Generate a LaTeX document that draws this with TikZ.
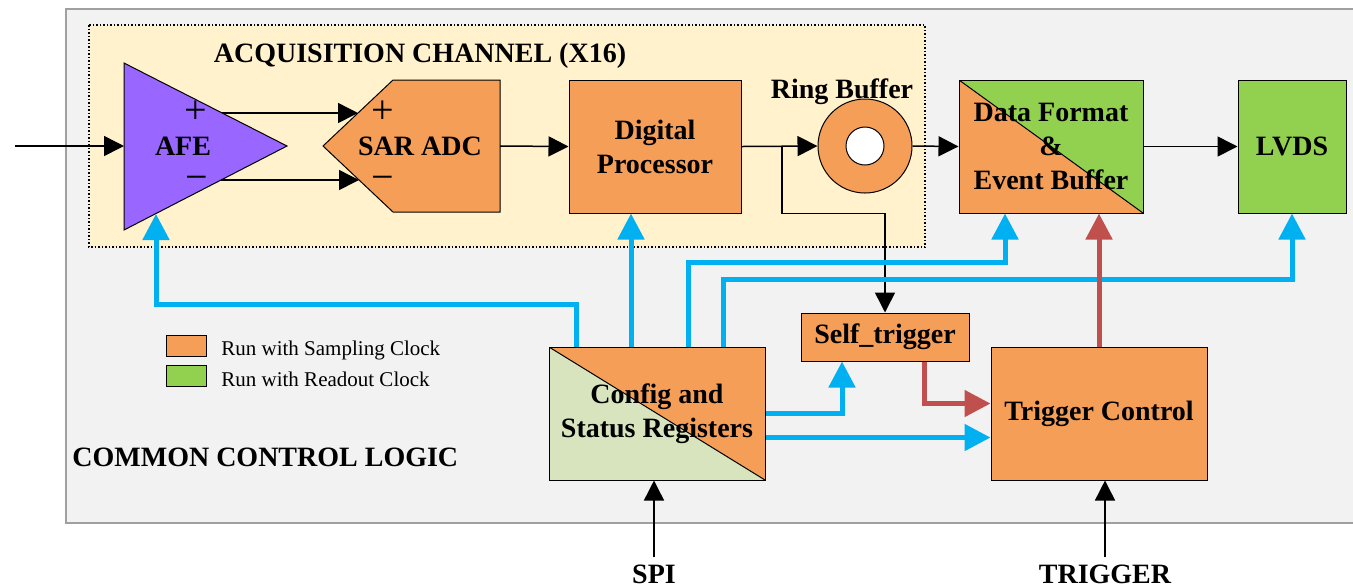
\documentclass[tikz,border=0pt]{standalone}
\usepackage{fontspec}
\setmainfont{Liberation Serif}
\usetikzlibrary{arrows.meta}
\definecolor{bggray}{RGB}{242,242,242}
\definecolor{framegray}{RGB}{160,160,160}
\definecolor{acqyellow}{RGB}{255,242,204}
\definecolor{smporange}{RGB}{245,158,88}
\definecolor{rdgreen}{RGB}{146,208,80}
\definecolor{cfggreen}{RGB}{216,228,189}
\definecolor{afepurple}{RGB}{153,102,255}
\definecolor{ctlblue}{RGB}{0,176,240}
\definecolor{trgred}{RGB}{192,80,77}
\newcommand{\blkfont}{\fontsize{14}{17}\selectfont\bfseries}
\newcommand{\sgnfont}{\fontsize{20}{20}\selectfont}
\newcommand{\lgdfont}{\fontsize{10.5}{12}\selectfont}
\begin{document}
\begin{tikzpicture}[x=0.5pt,y=-0.5pt,
        blk/.style={draw, line width=0.5pt, fill=smporange, font=\blkfont, align=center, inner sep=0pt},
        rdsplit/.style={path picture={
            \fill[rdgreen] (path picture bounding box.north west) -- (path picture bounding box.north east)
                -- (path picture bounding box.south east) -- cycle;
            \draw[line width=0.5pt] (path picture bounding box.north west) -- (path picture bounding box.south east);}},
        cfgsplit/.style={path picture={
            \fill[cfggreen] (path picture bounding box.north west) -- (path picture bounding box.south west)
                -- (path picture bounding box.south east) -- cycle;
            \draw[line width=0.5pt] (path picture bounding box.north west) -- (path picture bounding box.south east);}},
        sig/.style={-{Triangle[length=10pt,width=10pt]}, line width=0.75pt},
        ctl/.style={-{Triangle[length=13pt,width=13pt]}, line width=2.5pt, ctlblue},
        trg/.style={-{Triangle[length=13pt,width=13pt]}, line width=2.5pt, trgred},
        swatch/.style={draw, line width=0.5pt, minimum width=20pt, minimum height=10.5pt, inner sep=0pt}]
    \useasboundingbox (0,0) rectangle (1353,586);
    \filldraw[fill=bggray, draw=framegray, line width=0.75pt] (66,9) rectangle (1380,523);
    \filldraw[fill=acqyellow, densely dotted, line width=0.75pt] (89,25) rectangle (925,247);
    \node[font=\blkfont, anchor=base] (acqlbl) at (420,62) {ACQUISITION CHANNEL (X16)};

    \filldraw[fill=afepurple, line width=0.5pt] (124,63) -- (287,146) -- (124,230) -- cycle;
    \coordinate (afe-in) at (124,146);
    \coordinate (afe-p) at (222,113);
    \coordinate (afe-m) at (221,180);
    \coordinate (afe-ctl) at (156,214);
    \node[font=\blkfont] (afe) at (183,146) {AFE};
    \node[font=\sgnfont, anchor=base] (afe-plus) at (196,123) {+};
    \node[font=\sgnfont, anchor=base] (afe-minus) at (197,190) {−};

    \filldraw[fill=smporange, line width=0.5pt] (323,146) -- (393,80) -- (500,80) -- (500,212) -- (393,212) -- cycle;
    \coordinate (adc-p) at (358,113);
    \coordinate (adc-m) at (359,180);
    \coordinate (adc-out) at (500,146);
    \node[font=\blkfont] (adc) at (420,146) {SAR ADC};
    \node[font=\sgnfont, anchor=base] (adc-plus) at (383,123) {+};
    \node[font=\sgnfont, anchor=base] (adc-minus) at (383,190) {−};

    \node[blk, minimum width=86pt, minimum height=66.5pt] (dp) at (655,146.5) {Digital\\Processor};
    \node[draw, circle, line width=0.5pt, fill=smporange, minimum size=47pt, inner sep=0pt] (ring) at (865,146) {};
    \node[draw, circle, line width=0.5pt, fill=white, minimum size=19pt, inner sep=0pt] (ringhole) at (ring.center) {};
    \node[font=\blkfont, anchor=base] (ringlbl) at (842,98) {Ring Buffer};
    \node[blk, rdsplit, minimum width=92pt, minimum height=66.5pt] (df) at (1051,146.5) {Data Format\\\&\\Event Buffer};
    \node[blk, fill=rdgreen, minimum width=54pt, minimum height=66.5pt] (lvds) at (1292,146.5) {LVDS};

    \node[blk, cfgsplit, minimum width=108pt, minimum height=66.5pt] (cfg) at (657,413.5) {Config and\\Status Registers};
    \node[blk, minimum width=84pt, minimum height=24pt] (selftrig) at (885,337) {Self\_trigger};
    \node[blk, minimum width=108pt, minimum height=66.5pt] (tc) at (1099,413.5) {Trigger Control};

    \node[swatch, fill=smporange] (lgd-smp) at (186,345.5) {};
    \node[swatch, fill=rdgreen] (lgd-rd) at (186,375.5) {};
    \node[font=\lgdfont, anchor=base west, inner sep=0pt] (lgd-smp-txt) at (221,355) {Run with Sampling Clock};
    \node[font=\lgdfont, anchor=base west, inner sep=0pt] (lgd-rd-txt) at (221,386) {Run with Readout Clock};
    \node[font=\blkfont, anchor=base west, inner sep=0pt] (ccl) at (72,466) {COMMON CONTROL LOGIC};

    \node[font=\blkfont, anchor=base] (spi) at (654,583) {SPI};
    \node[font=\blkfont, anchor=base] (trig) at (1105,583) {TRIGGER};

    \coordinate (vin) at (15,146);
    \coordinate (tap) at (782,146);
    \draw[sig] (vin) -- (afe-in);
    \draw[sig] (afe-p) -- (adc-p);
    \draw[sig] (afe-m) -- (adc-m);
    \draw[sig] (adc-out) -- (dp.west);
    \draw[sig] (dp.east) -- (ring.west);
    \draw[sig] (tap) -- (tap |- dp.south) -| (selftrig.north);
    \draw[sig] (ring.east) -- (df.west);
    \draw[sig] (df.east) -- (lvds.west);
    \draw[sig] (spi.north) -- (spi.north |- cfg.south);
    \draw[sig] (trig.north) -- (trig.north |- tc.south);

    \draw[ctl] ([xshift=-40.5pt]cfg.north) -- ++(0,-42) -| (afe-ctl);
    \draw[ctl] ([xshift=-13pt]cfg.north) -- ([xshift=-13pt]cfg.north |- dp.south);
    \draw[ctl] ([xshift=15.5pt]cfg.north) -- ++(0,-84) -| ([xshift=-23pt]df.south);
    \draw[ctl] ([xshift=33pt]cfg.north) -- ++(0,-67) -| (lvds.south);
    \draw[ctl] (cfg.east) -| ([xshift=-21.5pt]selftrig.south);
    \draw[ctl] ([yshift=-12pt]cfg.east) -- ([yshift=-12pt]cfg.east -| tc.west);

    \draw[trg] ([xshift=19.5pt]selftrig.south) |- ([yshift=5pt]tc.west);
    \draw[trg] (tc.north) -- (tc.north |- df.south);
\end{tikzpicture}
\end{document}
